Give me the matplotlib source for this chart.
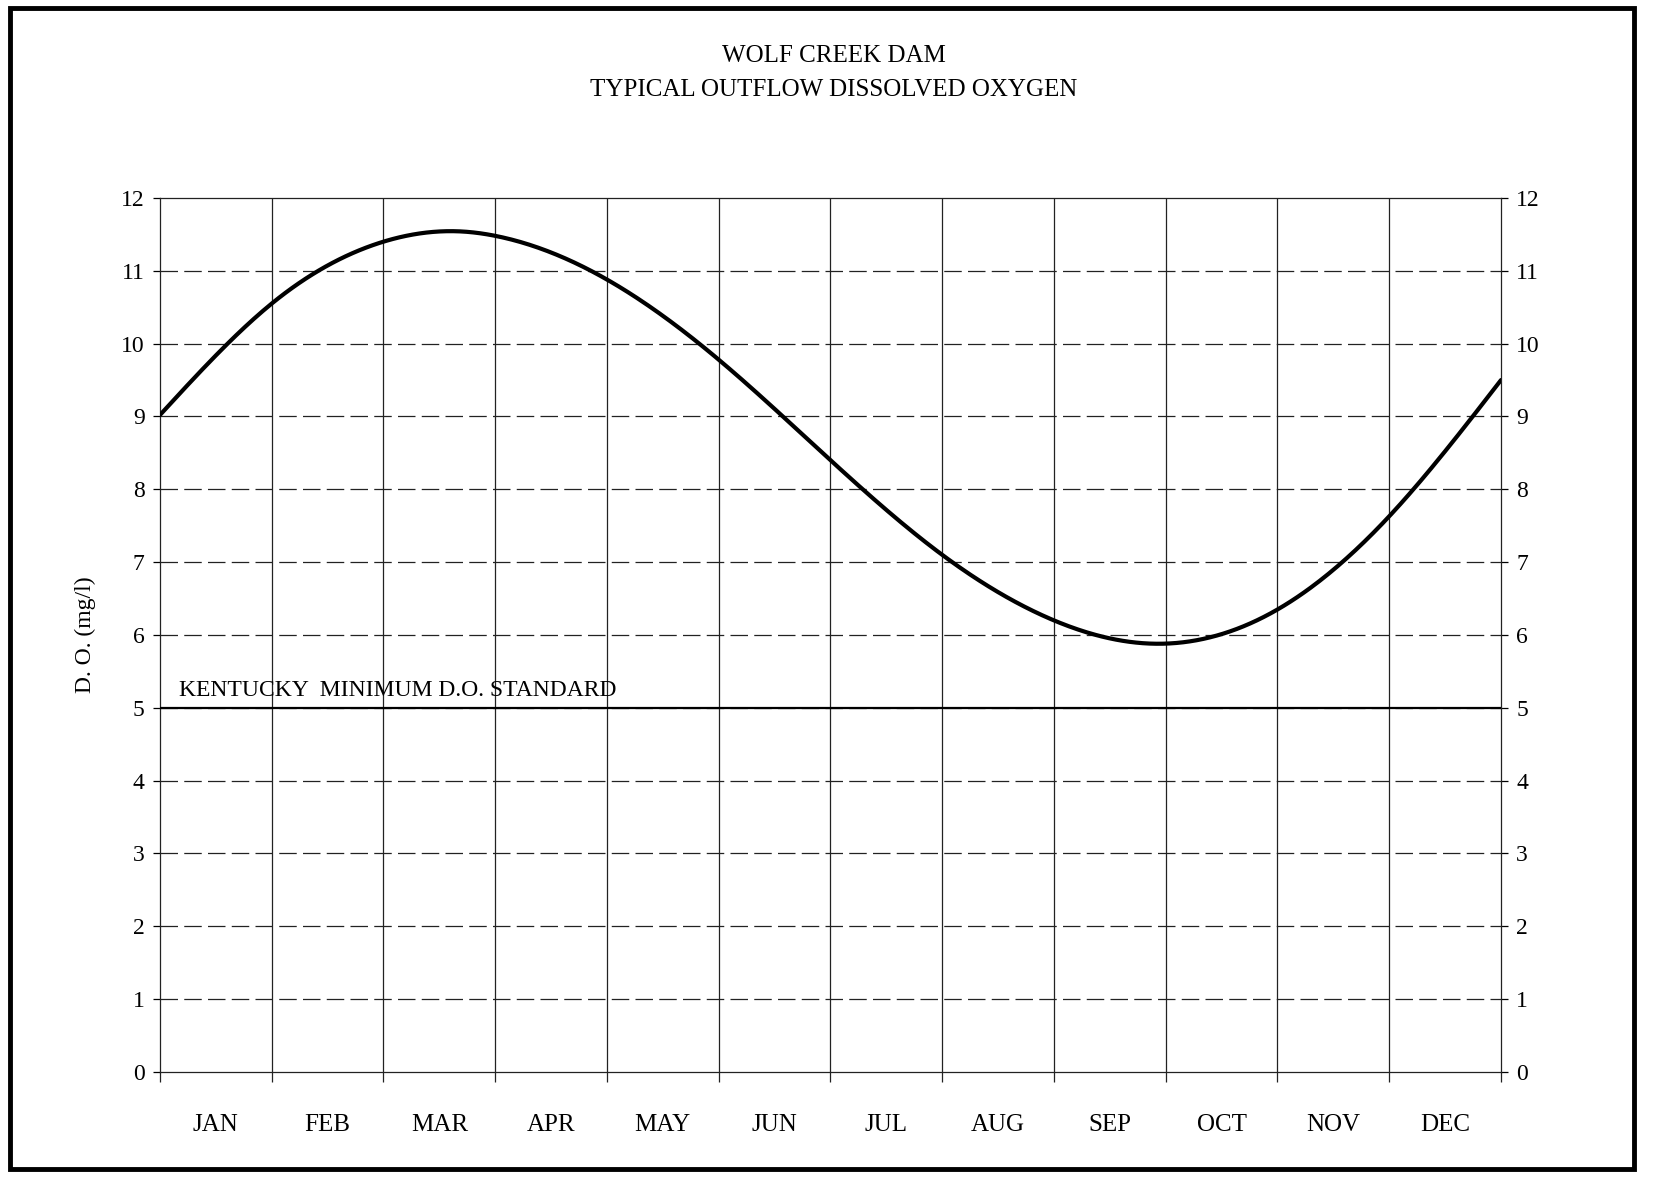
import numpy as np
import matplotlib
matplotlib.use("Agg")
import matplotlib.pyplot as plt
from matplotlib.patches import Rectangle

# ── Data ────────────────────────────────────────────────────────────────────
MONTHS = ["JAN", "FEB", "MAR", "APR", "MAY", "JUN",
          "JUL", "AUG", "SEP", "OCT", "NOV", "DEC"]
# position along the year in months (0 = start of JAN, 12 = end of DEC)
curve_month = [0.0, 1.0, 2.0, 2.7, 3.0, 4.0, 5.0, 6.0, 7.0, 8.0, 8.9,
               10.0, 11.0, 12.0]
curve_do = [9.02, 10.55, 11.4, 11.54, 11.48, 10.88, 9.78, 8.4, 7.1, 6.2, 5.88,
            6.35, 7.63, 9.5]
standard_month = [0, 12]
standard_do = [5.0, 5.0]
y_ticks = list(range(0, 13))


def natural_spline(x, y, xs):
    """Plain natural cubic spline, numpy only."""
    x = np.asarray(x, float)
    y = np.asarray(y, float)
    n = len(x)
    h = np.diff(x)
    A = np.zeros((n, n))
    b = np.zeros(n)
    A[0, 0] = A[-1, -1] = 1
    for i in range(1, n - 1):
        A[i, i - 1] = h[i - 1]
        A[i, i] = 2 * (h[i - 1] + h[i])
        A[i, i + 1] = h[i]
        b[i] = 6 * ((y[i + 1] - y[i]) / h[i] - (y[i] - y[i - 1]) / h[i - 1])
    M = np.linalg.solve(A, b)
    idx = np.clip(np.searchsorted(x, xs) - 1, 0, n - 2)
    x0, x1, hh = x[idx], x[idx + 1], h[idx]
    return (M[idx] * (x1 - xs) ** 3 / (6 * hh) + M[idx + 1] * (xs - x0) ** 3 / (6 * hh)
            + (y[idx] / hh - M[idx] * hh / 6) * (x1 - xs)
            + (y[idx + 1] / hh - M[idx + 1] * hh / 6) * (xs - x0))


plt.rcParams["font.family"] = ["Liberation Serif", "DejaVu Serif"]

fig = plt.figure(figsize=(16.54, 11.84), dpi=100)
ax = fig.add_axes([0.0967, 0.0946, 0.8108, 0.7382])

xs = np.linspace(0, 12, 600)
ax.plot(xs, natural_spline(curve_month, curve_do, xs), color="black", lw=3.0,
        solid_capstyle="round", zorder=4)
ax.plot(standard_month, standard_do, color="black", lw=1.6, zorder=3)

ax.text(0.17, 5.1, "KENTUCKY  MINIMUM D.O. STANDARD", fontsize=17,
        ha="left", va="bottom")

ax.set_xlim(0, 12)
ax.set_ylim(0, 12)
ax.set_xticks(range(0, 13))
ax.set_xticklabels([])
ax.set_xticks(np.arange(12) + 0.5, minor=True)
ax.set_xticklabels(MONTHS, minor=True, fontsize=18)
ax.tick_params(axis="x", which="major", direction="out", length=7,
               width=0.9, color="#222")
ax.tick_params(axis="x", which="minor", length=0, pad=30)

ax.set_yticks(y_ticks)
ax.set_yticklabels([str(v) for v in y_ticks], fontsize=17)
ax.tick_params(axis="y", direction="out", length=5, width=0.9, pad=6,
               left=True, right=True, labelleft=True, labelright=True)

for v in y_ticks[1:-1]:
    ax.axhline(v, color="#222", lw=0.9, dashes=(14, 5), zorder=1)
for m in range(1, 12):
    ax.axvline(m, color="#222", lw=0.9, zorder=1)
for s in ax.spines.values():
    s.set_linewidth(0.9)
    s.set_color("#222")

ax.set_ylabel("D. O. (mg/l)", fontsize=17, labelpad=18)

fig.text(0.504, 0.953, "WOLF CREEK DAM", fontsize=18, ha="center", va="center")
fig.text(0.504, 0.924, "TYPICAL OUTFLOW DISSOLVED OXYGEN", fontsize=18,
         ha="center", va="center")

fig.patches.append(Rectangle((0.006, 0.013), 0.982, 0.98, transform=fig.transFigure,
                             fill=False, lw=3.5, edgecolor="black"))

fig.savefig("out.png", dpi=100)
